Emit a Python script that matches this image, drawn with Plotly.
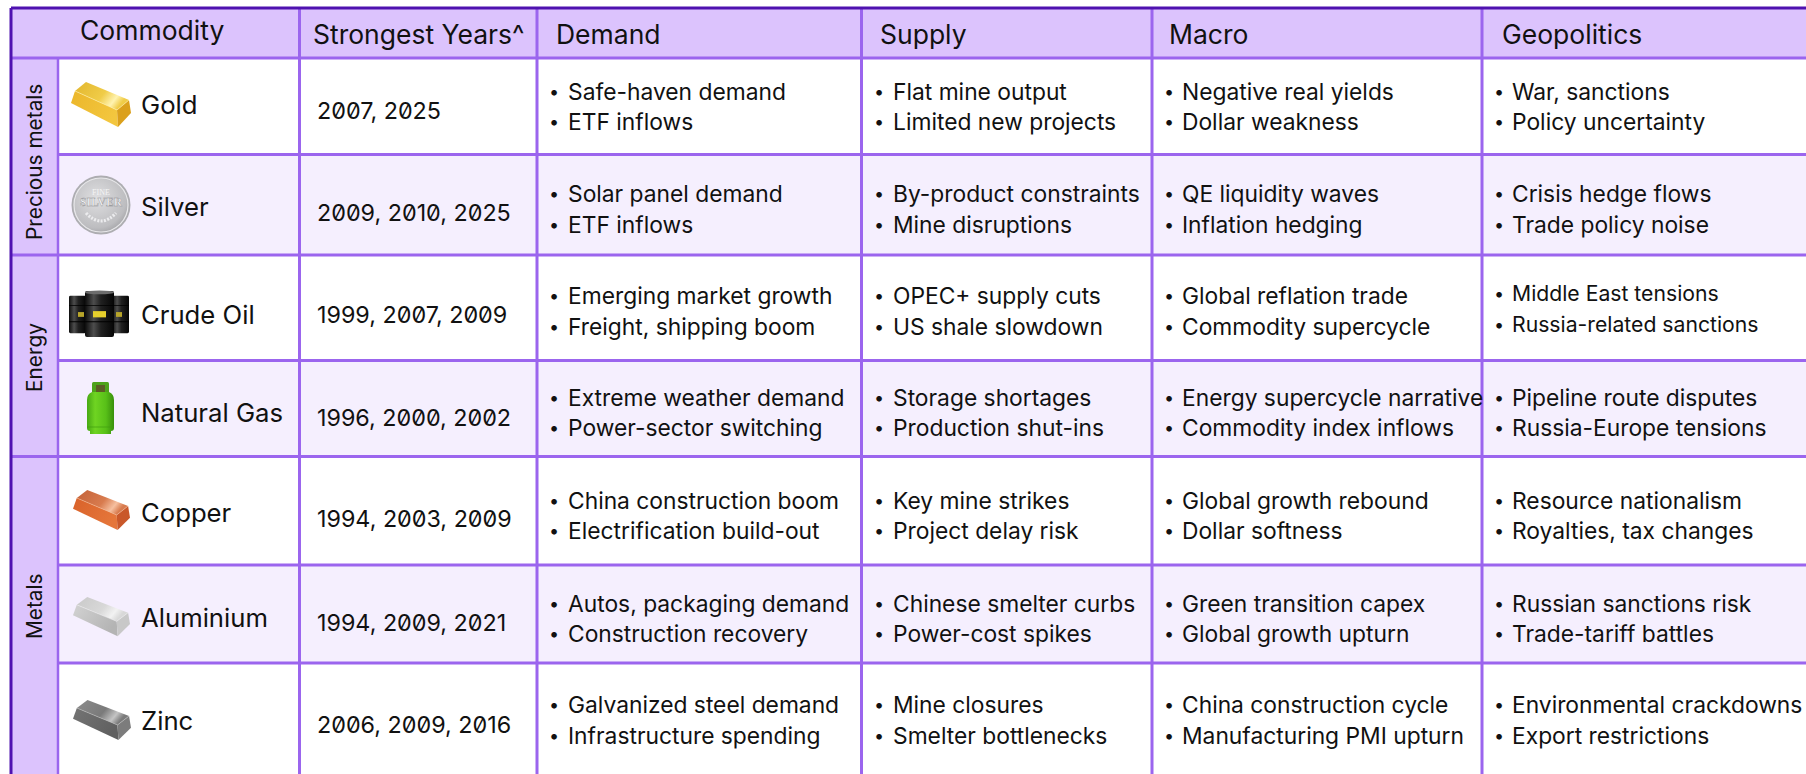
import base64
import plotly.graph_objects as go

# ---- data ----
headers = ["Commodity", "Strongest Years^", "Demand", "Supply", "Macro", "Geopolitics"]
groups = ["Precious metals", "Energy", "Metals"]
group_spans = [(0, 1), (2, 3), (4, 6)]
commodities = ["Gold", "Silver", "Crude Oil", "Natural Gas", "Copper", "Aluminium", "Zinc"]
years = ["2007, 2025", "2009, 2010, 2025", "1999, 2007, 2009", "1996, 2000, 2002",
         "1994, 2003, 2009", "1994, 2009, 2021", "2006, 2009, 2016"]
demand = [["Safe-haven demand", "ETF inflows"], ["Solar panel demand", "ETF inflows"],
          ["Emerging market growth", "Freight, shipping boom"], ["Extreme weather demand", "Power-sector switching"],
          ["China construction boom", "Electrification build-out"], ["Autos, packaging demand", "Construction recovery"],
          ["Galvanized steel demand", "Infrastructure spending"]]
supply = [["Flat mine output", "Limited new projects"], ["By-product constraints", "Mine disruptions"],
          ["OPEC+ supply cuts", "US shale slowdown"], ["Storage shortages", "Production shut-ins"],
          ["Key mine strikes", "Project delay risk"], ["Chinese smelter curbs", "Power-cost spikes"],
          ["Mine closures", "Smelter bottlenecks"]]
macro = [["Negative real yields", "Dollar weakness"], ["QE liquidity waves", "Inflation hedging"],
         ["Global reflation trade", "Commodity supercycle"], ["Energy supercycle narrative", "Commodity index inflows"],
         ["Global growth rebound", "Dollar softness"], ["Green transition capex", "Global growth upturn"],
         ["China construction cycle", "Manufacturing PMI upturn"]]
geopolitics = [["War, sanctions", "Policy uncertainty"], ["Crisis hedge flows", "Trade policy noise"],
               ["Middle East tensions", "Russia-related sanctions"], ["Pipeline route disputes", "Russia-Europe tensions"],
               ["Resource nationalism", "Royalties, tax changes"], ["Russian sanctions risk", "Trade-tariff battles"],
               ["Environmental crackdowns", "Export restrictions"]]

# ---- layout constants (pixels) ----
W, H = 1806, 774
col_x = [11, 58, 299.5, 537, 861.5, 1152, 1482, 1806]
row_y = [8, 58, 154.5, 255, 360.5, 456.5, 565, 663, 774]
FONT = "Inter"
SIZE = 22.8
INK = "#111111"
HEAD = "#DCC3FD"
ALT = "#F5EFFE"
LINE = "#9B65EE"
DARK = "#4F12B0"

label_y = [104, 206, 314, 412, 512, 617.5, 720]
year_y = [110, 212, 314, 417, 518, 622, 724]
line1_y = [91, 193, 295, 397, 500, 603, 704]
line2_y = [121, 224, 326, 427, 530, 633, 735]
text_x = [568, 893, 1182, 1512]
bullet_x = [549, 874, 1164, 1494]
group_y = [162, 358, 606]

shapes, annos, images = [], [], []


def rect(x0, y0, x1, y1, fill):
    shapes.append(dict(type="rect", xref="x", yref="y", x0=x0, y0=y0, x1=x1, y1=y1,
                       fillcolor=fill, line=dict(width=0), layer="below"))


def seg(x0, y0, x1, y1, color, w):
    shapes.append(dict(type="line", xref="x", yref="y", x0=x0, y0=y0, x1=x1, y1=y1,
                       line=dict(color=color, width=w), layer="above"))


def text(x, y, s, size=SIZE, anchor="left", angle=0):
    annos.append(dict(xref="x", yref="y", x=x, y=y, text=s, showarrow=False, xanchor=anchor, yanchor="middle",
                      textangle=angle, font=dict(family=FONT, size=size, color=INK), borderpad=0, borderwidth=0))


# fills
rect(col_x[0], row_y[0], W, row_y[1], HEAD)
rect(col_x[0], row_y[1], col_x[1], H, HEAD)
for i in range(7):
    rect(col_x[1], row_y[i + 1], W, row_y[i + 2], ALT if i % 2 else "#FFFFFF")

# grid
for y in row_y[1:-1]:
    if y in (row_y[3], row_y[5]):
        seg(col_x[0], y, W, y, LINE, 3)
    else:
        seg(col_x[1], y, W, y, LINE, 3)
seg(col_x[0], row_y[1], col_x[1], row_y[1], LINE, 3)
seg(col_x[1], row_y[1], col_x[1], H, LINE, 2.5)
for x in col_x[2:-1]:
    seg(x, row_y[0], x, H, LINE, 3)
seg(col_x[0], row_y[0], W, row_y[0], DARK, 3)
seg(col_x[0], row_y[0], col_x[0], H, DARK, 3)

# headers
head_x = [152, 313, 556, 880, 1169, 1502]
head_y = [30, 34, 34, 34, 34, 34]
for x, y, s, i in zip(head_x, head_y, headers, range(6)):
    text(x, y, s, size=26.5, anchor="center" if i == 0 else "left")

# groups
for g, y in zip(groups, group_y):
    text(34, y, g, size=20.8, anchor="center", angle=-90)

# body
for i in range(7):
    text(141, label_y[i], commodities[i], size=25.7)
    text(317, year_y[i], years[i], size=23.3)
    for c, col in enumerate([demand, supply, macro, geopolitics]):
        size = SIZE
        dy = 0
        if c == 3 and i == 2:
            size, dy = 21.2, -2
        text(bullet_x[c], line1_y[i] + dy, "•", size=18)
        text(bullet_x[c], line2_y[i] + dy, "•", size=18)
        text(text_x[c], line1_y[i] + dy, col[i][0], size=size)
        text(text_x[c], line2_y[i] + dy, col[i][1], size=size)


# ---- icons (small self-contained svg pictures) ----
def bar_svg(top_a, top_b, front_a, front_b, side, shine):
    return f'''<svg xmlns="http://www.w3.org/2000/svg" viewBox="0 0 60 46">
<defs><linearGradient id="t" x1="0" y1="0" x2="1" y2=".4"><stop offset="0" stop-color="{top_a}"/><stop offset=".6" stop-color="{top_b}"/><stop offset=".85" stop-color="{shine}"/><stop offset="1" stop-color="{top_b}"/></linearGradient>
<linearGradient id="f" x1="0" y1="0" x2="1" y2=".5"><stop offset="0" stop-color="{front_a}"/><stop offset="1" stop-color="{front_b}"/></linearGradient></defs>
<polygon points="15,0 58,18 46,28 4,9" fill="url(#t)"/>
<polygon points="4,9 46,28 47,45 0,21" fill="url(#f)"/>
<polygon points="46,28 58,18 60,31 47,45" fill="{side}"/>
<path d="M4 9 L46 28 L58 18" fill="none" stroke="{shine}" stroke-width=".8" opacity=".7"/>
</svg>'''


coin_svg = '''<svg xmlns="http://www.w3.org/2000/svg" viewBox="0 0 60 60">
<defs><radialGradient id="c" cx=".42" cy=".38" r=".72"><stop offset="0" stop-color="#DFDFE1"/><stop offset=".75" stop-color="#BDBDC0"/><stop offset="1" stop-color="#9A9A9E"/></radialGradient></defs>
<circle cx="30" cy="30" r="29.5" fill="#ADADB1"/><circle cx="30" cy="30" r="27" fill="url(#c)" stroke="#E8E8EA" stroke-width="1.2"/>
<text x="30" y="20" font-family="Liberation Serif" font-size="8" text-anchor="middle" fill="#F4F4F5">FINE</text>
<text x="30" y="31" font-family="Liberation Serif" font-size="12" font-weight="bold" text-anchor="middle" fill="#F7F7F8" stroke="#8C8C90" stroke-width=".4" textLength="42" lengthAdjust="spacingAndGlyphs">SILVER</text>
<path d="M15 38 Q30 54 45 38" fill="none" stroke="#ECECEE" stroke-width="3.2" stroke-dasharray="2 1.4"/>
</svg>'''

barrels_svg = '''<svg xmlns="http://www.w3.org/2000/svg" viewBox="0 0 60 50">
<defs><linearGradient id="b" x1="0" y1="0" x2="1" y2="0"><stop offset="0" stop-color="#0C0C0C"/><stop offset=".3" stop-color="#4D4D4D"/><stop offset=".55" stop-color="#202020"/><stop offset="1" stop-color="#050505"/></linearGradient></defs>
<rect x="0" y="6" width="17" height="39" rx="1.5" fill="url(#b)"/><rect x="43" y="6" width="17" height="39" rx="1.5" fill="url(#b)"/>
<rect x="16" y="1" width="29" height="48" rx="2" fill="url(#b)"/>
<ellipse cx="30.5" cy="2.5" rx="14.5" ry="2" fill="#6D6D6D"/>
<rect x="9" y="23" width="6" height="5" fill="#B8A52A"/><rect x="47" y="23" width="6" height="5" fill="#B8A52A"/><rect x="24" y="22" width="13" height="6.5" fill="#E6CF2C"/>
<path d="M16 16 H45 M16 33 H45" stroke="#000" stroke-width="1"/><path d="M0 16 H16 M0 33 H16 M45 16 H60 M45 33 H60" stroke="#000" stroke-width="1"/>
</svg>'''

bottle_svg = '''<svg xmlns="http://www.w3.org/2000/svg" viewBox="0 0 27 53">
<defs><linearGradient id="g" x1="0" y1="0" x2="1" y2="0"><stop offset="0" stop-color="#47A814"/><stop offset=".3" stop-color="#6FD422"/><stop offset=".7" stop-color="#58C018"/><stop offset="1" stop-color="#388F0C"/></linearGradient></defs>
<rect x="5" y="0" width="17" height="12" rx="1.5" fill="#4EA319"/><rect x="9" y="3" width="9" height="7" fill="#5C5E24"/>
<path d="M5 10 Q0 12 0 18 V46 Q0 49 3 49 V52 H24 V49 Q27 49 27 46 V18 Q27 12 22 10 Z" fill="url(#g)"/>
<path d="M0 45 H27" stroke="#3F9E0E" stroke-width=".7"/>
</svg>'''


def uri(svg):
    return "data:image/svg+xml;base64," + base64.b64encode(svg.encode()).decode()


icons = [
    (bar_svg("#E2B62E", "#F0CC48", "#EBB62A", "#F3C63E", "#DBA01C", "#FFF3B0"), 71, 82, 60, 46),
    (coin_svg, 71, 175, 60, 60),
    (barrels_svg, 69, 290, 60, 48),
    (bottle_svg, 87, 382, 27, 53),
    (bar_svg("#C46238", "#D87B4E", "#D9622A", "#E5763A", "#C9582A", "#F6C0A0"), 73, 490, 57, 41),
    (bar_svg("#C9C9C9", "#D8D8D8", "#D2D2D2", "#B4B4B4", "#C8C8C8", "#F2F2F2"), 73, 597, 57, 40),
    (bar_svg("#8C8C8C", "#7A7A7A", "#747474", "#606060", "#7C7C7C", "#C4C4C4"), 73, 700, 58, 41),
]
for svg, x, y, w, h in icons:
    images.append(dict(source=uri(svg), xref="x", yref="y", x=x, y=y, sizex=w, sizey=h,
                       xanchor="left", yanchor="top", sizing="stretch", layer="above"))

fig = go.Figure()
fig.update_layout(
    width=W, height=H, margin=dict(l=0, r=0, t=0, b=0), paper_bgcolor="white", plot_bgcolor="white",
    xaxis=dict(range=[0, W], visible=False, fixedrange=True),
    yaxis=dict(range=[H, 0], visible=False, fixedrange=True),
    shapes=shapes, annotations=annos, images=images, showlegend=False,
)
fig.write_html(
    "out.html", config=dict(displayModeBar=False),
    post_script="document.body.style.margin='0';"
                "var s=document.createElement('style');"
                "s.textContent=\"text{font-feature-settings:'zero'}\";document.head.appendChild(s);",
)
